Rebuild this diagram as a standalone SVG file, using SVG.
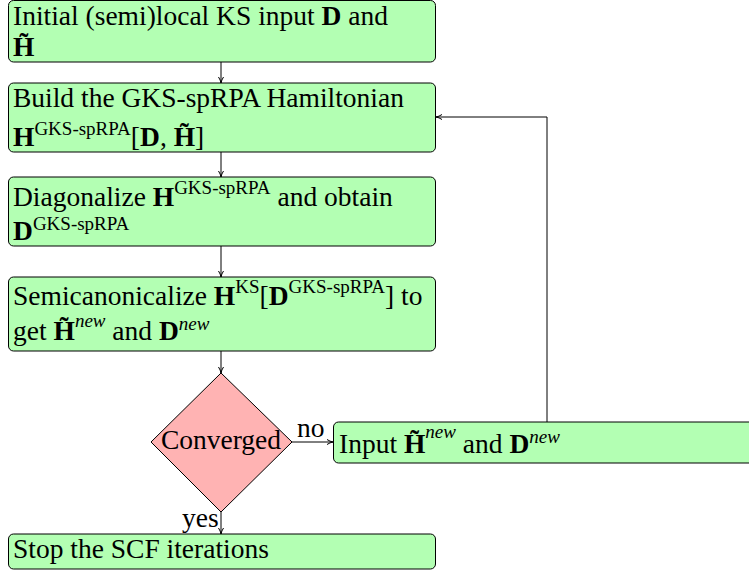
<svg xmlns="http://www.w3.org/2000/svg" width="749" height="573" viewBox="0 0 749 573">
<style>
.box{fill:#b3ffb3;stroke:#000;stroke-width:1}
.dec{fill:#ffb3b3;stroke:#000;stroke-width:1}
.t{font-family:"Liberation Serif","DejaVu Serif",serif;font-size:27.5px;fill:#000}
.b{font-weight:bold}
.s{font-size:19px}
.i{font-style:italic}
.c{stroke:#000;stroke-width:1;fill:none;marker-end:url(#a)}
</style>
<defs>
<marker id="a" viewBox="0 0 8 8" refX="7" refY="4" markerWidth="8" markerHeight="8" markerUnits="userSpaceOnUse" orient="auto">
<path d="M1,1.5 Q4,3.5 7,4 Q4,4.5 1,6.5" fill="none" stroke="#000" stroke-width="1"/>
</marker>
</defs>
<g id="connectors">
<line class="c" x1="221" y1="62" x2="221" y2="83"/>
<line class="c" x1="221" y1="152" x2="221" y2="177"/>
<line class="c" x1="221" y1="246" x2="221" y2="277"/>
<line class="c" x1="221" y1="351" x2="221" y2="373"/>
<line class="c" x1="292" y1="442" x2="333" y2="442"/>
<line class="c" x1="221" y1="512" x2="221" y2="534"/>
<polyline class="c" points="547,422 547,117 436,117"/>
<text class="t" x="297" y="437">no</text>
<text class="t" x="182" y="527">yes</text>
</g>
<g id="n1">
<rect class="box" x="8.5" y="0.5" width="427" height="61.5" rx="5"/>
<text class="t" x="13" y="25">Initial (semi)local KS input <tspan class="b">D</tspan> and</text>
<text class="t" x="13" y="56"><tspan class="b">H̃</tspan></text>
</g>
<g id="n2">
<rect class="box" x="8.5" y="83" width="427" height="69" rx="5"/>
<text class="t" x="13" y="107">Build the GKS-spRPA Hamiltonian</text>
<text class="t" x="13" y="146"><tspan class="b">H</tspan><tspan class="s" dy="-11">GKS-spRPA</tspan><tspan dy="11">[</tspan><tspan class="b">D</tspan>, <tspan class="b">H̃</tspan>]</text>
</g>
<g id="n3">
<rect class="box" x="8.5" y="177" width="427" height="69" rx="5"/>
<text class="t" x="13" y="206">Diagonalize <tspan class="b">H</tspan><tspan class="s" dy="-12">GKS-spRPA</tspan><tspan dy="12"> and obtain</tspan></text>
<text class="t" x="13" y="240"><tspan class="b">D</tspan><tspan class="s" dy="-10">GKS-spRPA</tspan></text>
</g>
<g id="n4">
<rect class="box" x="8.5" y="277" width="427" height="74" rx="5"/>
<text class="t" x="13" y="305">Semicanonicalize <tspan class="b">H</tspan><tspan class="s" dy="-12">KS</tspan><tspan dy="12">[</tspan><tspan class="b">D</tspan><tspan class="s" dy="-12">GKS-spRPA</tspan><tspan dy="12">] to</tspan></text>
<text class="t" x="13" y="340"><tspan>get </tspan><tspan class="b">H̃</tspan><tspan class="s i" dy="-13">new</tspan><tspan dy="13"> and </tspan><tspan class="b">D</tspan><tspan class="s i" dy="-10">new</tspan></text>
</g>
<g id="n5">
<polygon class="dec" points="221,373 292,442 221,512 151,442"/>
<text class="t" x="221" y="449" text-anchor="middle">Converged</text>
</g>
<g id="n6">
<rect class="box" x="333.5" y="422" width="430" height="41" rx="5"/>
<text class="t" x="339" y="453">Input <tspan class="b">H̃</tspan><tspan class="s i" dy="-15">new</tspan><tspan dy="15"> and </tspan><tspan class="b">D</tspan><tspan class="s i" dy="-10">new</tspan></text>
</g>
<g id="n7">
<rect class="box" x="8.5" y="534" width="427" height="35" rx="5"/>
<text class="t" x="13" y="558">Stop the SCF iterations</text>
</g>
</svg>
